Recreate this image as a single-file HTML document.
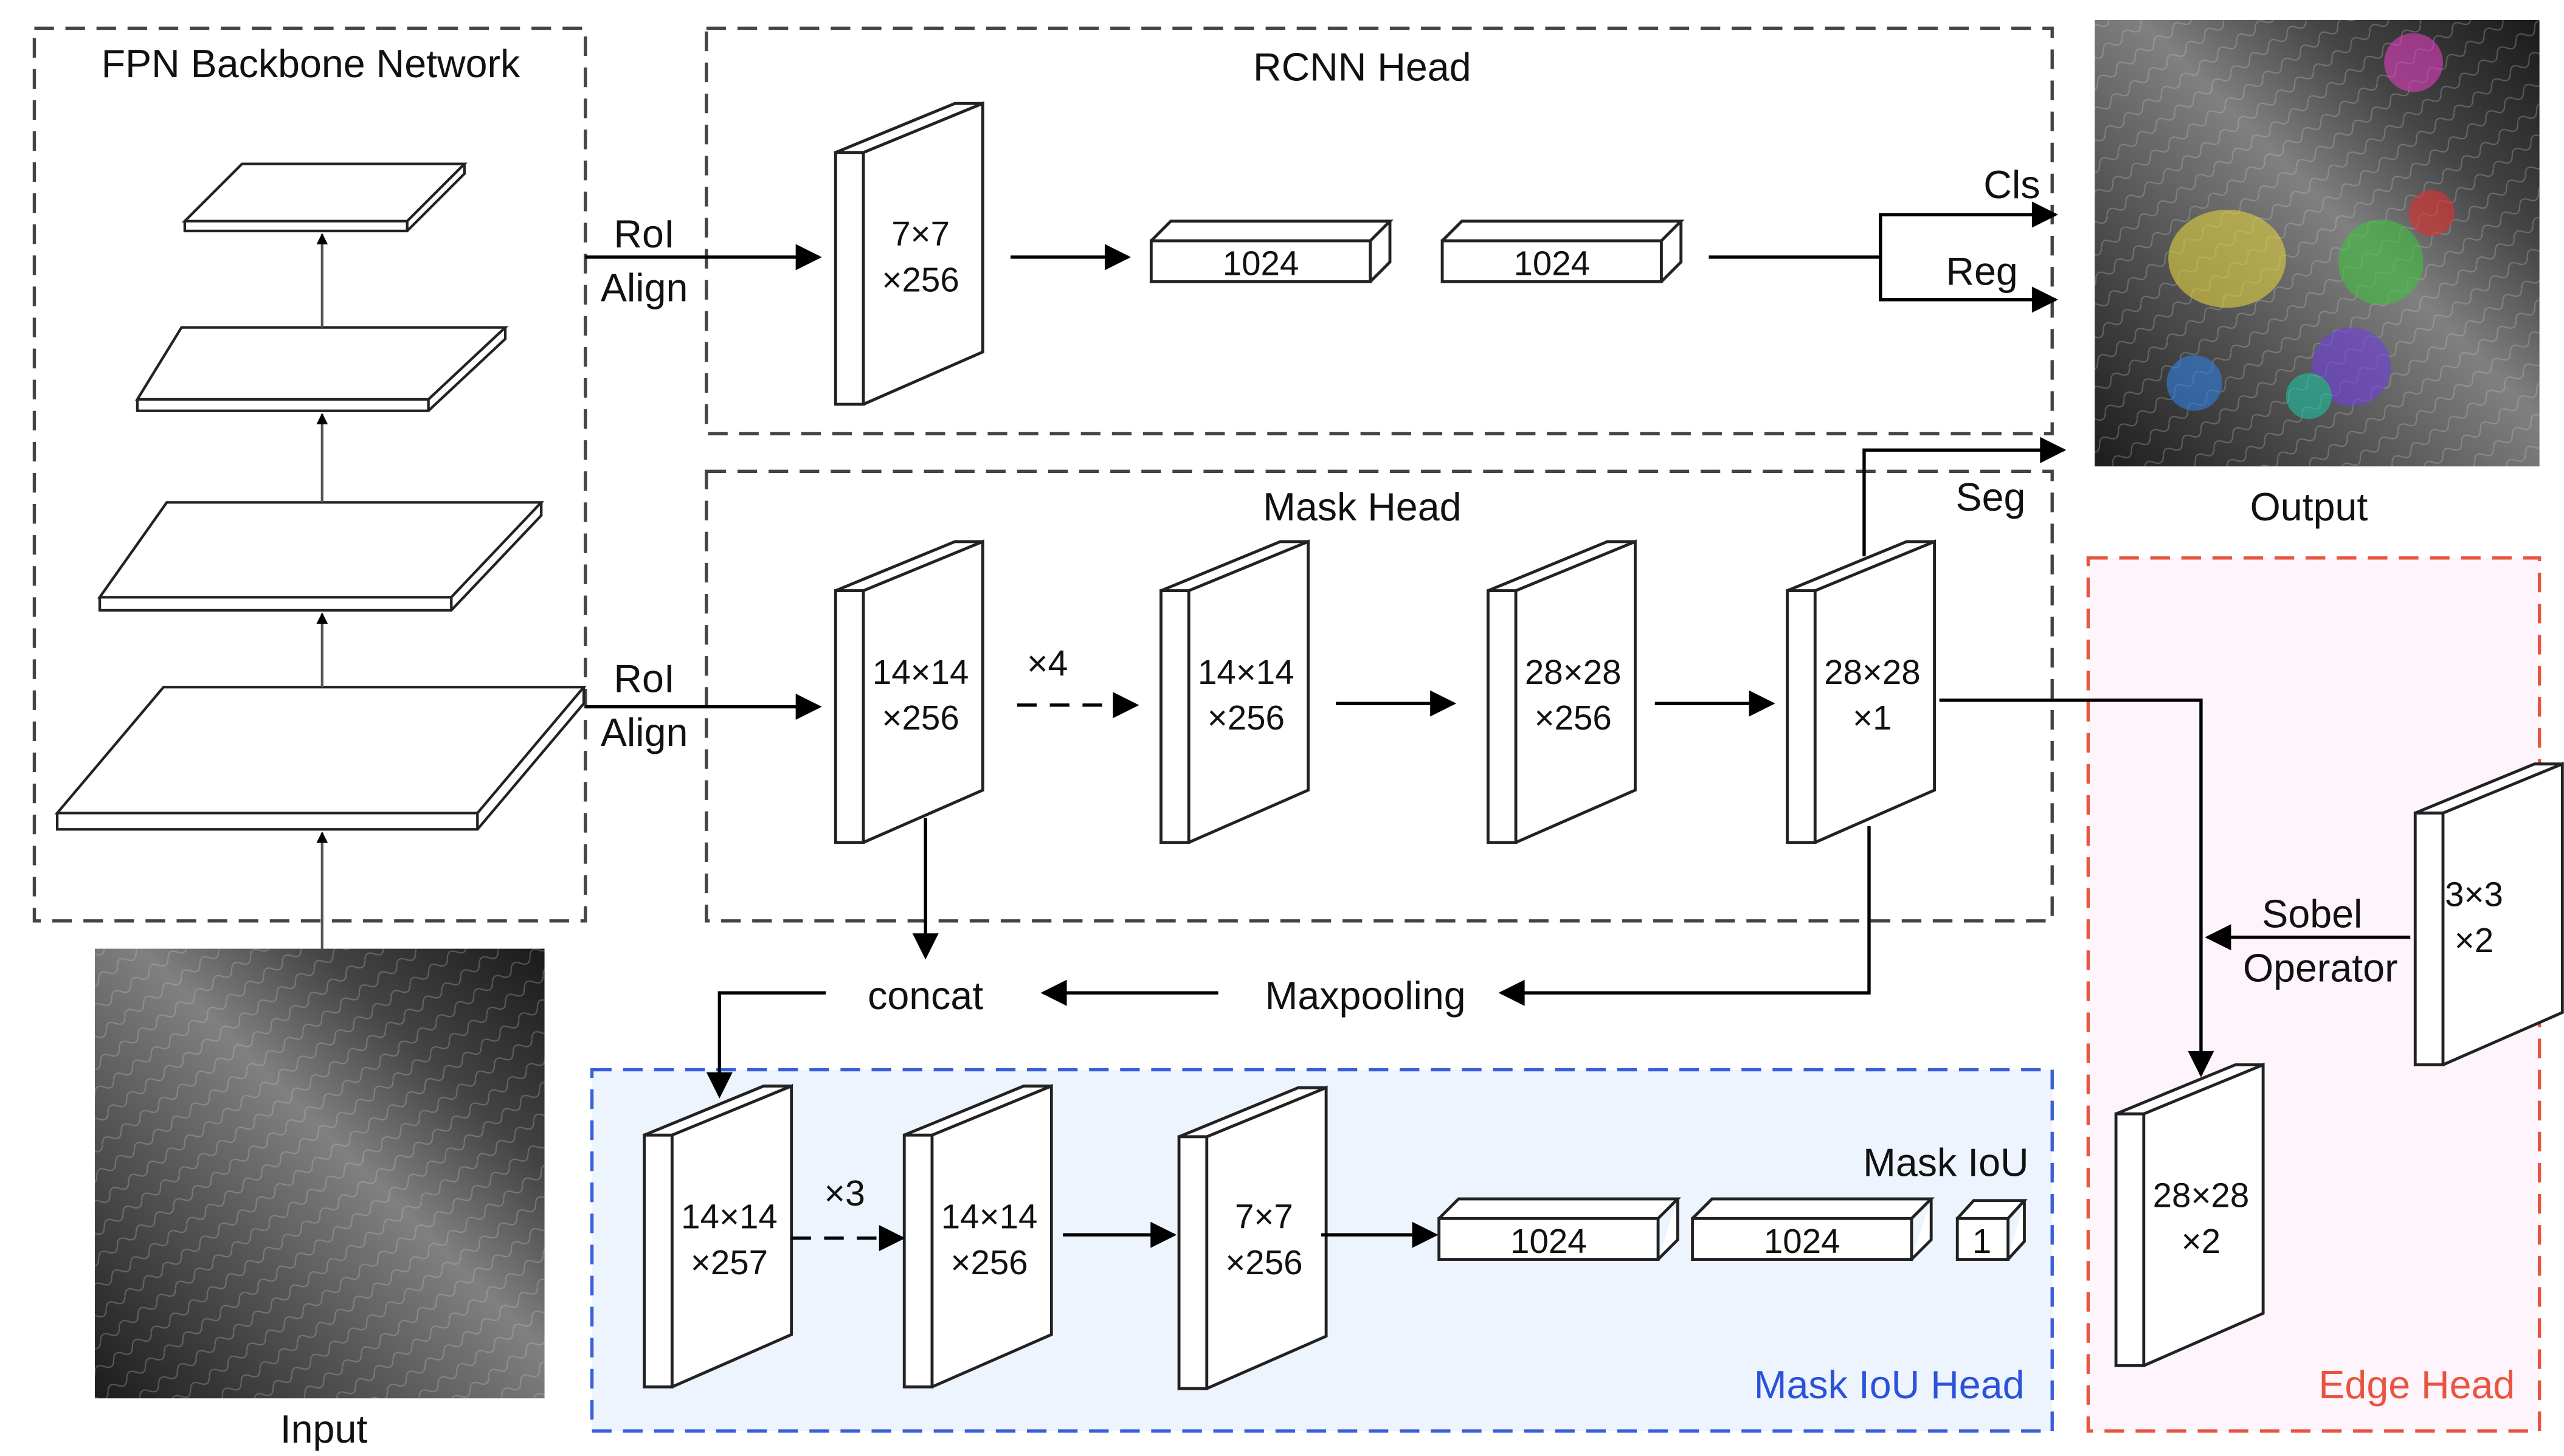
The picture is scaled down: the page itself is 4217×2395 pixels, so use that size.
<!DOCTYPE html>
<html><head><meta charset="utf-8"><style>html,body{margin:0;padding:0;background:#fff}svg{display:block}text{font-family:"Liberation Sans",sans-serif;fill:#111}</style></head><body>
<svg width="4217" height="2395" viewBox="0 0 1568 890" xmlns="http://www.w3.org/2000/svg">
<defs>
<marker id="ar" viewBox="0 0 10 10" refX="9" refY="5" markerWidth="7" markerHeight="7" orient="auto" markerUnits="userSpaceOnUse"><path d="M0,0L10,5L0,10z" fill="#000"/></marker>
<marker id="a2" viewBox="0 0 10 10" refX="9" refY="5" markerWidth="20" markerHeight="16" orient="auto" markerUnits="userSpaceOnUse"><path d="M0,0L10,5L0,10z" fill="#000"/></marker>
<linearGradient id="img" x1="0" y1="1" x2="1" y2="0"><stop offset="0" stop-color="#1c1c1c"/><stop offset=".35" stop-color="#5a5a5a"/><stop offset=".55" stop-color="#808080"/><stop offset=".75" stop-color="#444"/><stop offset="1" stop-color="#1a1a1a"/></linearGradient>
<pattern id="tex" width="14" height="14" patternUnits="userSpaceOnUse" patternTransform="rotate(-35)"><path d="M0,7 Q3.5,2 7,7 T14,7" stroke="#ccc" stroke-width=".8" fill="none" opacity=".3"/></pattern>
</defs>
<g fill="none" stroke-width="2" stroke-dasharray="12,7">
<rect x="21" y="17" width="337" height="546" stroke="#444"/>
<rect x="432" y="17" width="823" height="248" stroke="#444"/>
<rect x="432" y="288" width="823" height="275" stroke="#444"/>
<rect x="362" y="654" width="893" height="221" stroke="#3a5fd9" fill="#eef4fd"/>
<rect x="1277" y="341" width="276" height="534" stroke="#e8553f" fill="#fdf5fb"/>
</g>
<text x="190" y="47" font-size="24" text-anchor="middle">FPN Backbone Network</text>
<text x="833" y="49" font-size="24" text-anchor="middle">RCNN Head</text>
<text x="833" y="318" font-size="24" text-anchor="middle">Mask Head</text>
<text x="1238" y="855" font-size="24" text-anchor="end" style="fill:#2b52d8">Mask IoU Head</text>
<text x="1538" y="855" font-size="24" text-anchor="end" style="fill:#e8553f">Edge Head</text>
<rect x="58" y="580" width="275" height="275" fill="url(#img)"/><rect x="58" y="580" width="275" height="275" fill="url(#tex)"/>
<rect x="1281" y="12" width="272" height="273" fill="url(#img)"/><rect x="1281" y="12" width="272" height="273" fill="url(#tex)"/>
<g opacity=".6">
<ellipse cx="1362" cy="158" rx="36" ry="30" fill="#e0d040"/>
<circle cx="1456" cy="160" r="26" fill="#40c040"/>
<circle cx="1476" cy="38" r="18" fill="#e040c0"/>
<circle cx="1487" cy="130" r="14" fill="#e03030"/>
<circle cx="1438" cy="224" r="24" fill="#7040e0"/>
<circle cx="1412" cy="242" r="14" fill="#20c0a0"/>
<circle cx="1342" cy="234" r="17" fill="#3080e0"/>
</g>
<text x="198" y="882" font-size="24" text-anchor="middle">Input</text>
<text x="1412" y="318" font-size="24" text-anchor="middle">Output</text>
<g fill="#fff" stroke="#222" stroke-width="1.6">
<path d="M113,135 L148,100 L284,100 L249,135 Z M113,135 L113,141 L249,141 L284,106 L284,100 M249,135 L249,141"/>
<path d="M84,244 L111,200 L309,200 L262,244 Z M84,244 L84,251 L262,251 L309,207 L309,200 M262,244 L262,251"/>
<path d="M61,365 L102,307 L331,307 L276,365 Z M61,365 L61,373 L276,373 L331,315 L331,307 M276,365 L276,373"/>
<path d="M35,497 L100,420 L357,420 L292,497 Z M35,497 L35,507 L292,507 L357,430 L357,420 M292,497 L292,507"/>
</g>
<g stroke="#555" stroke-width="1.6" marker-end="url(#ar)">
<line x1="197" y1="580" x2="197" y2="509"/><line x1="197" y1="420" x2="197" y2="375"/>
<line x1="197" y1="307" x2="197" y2="253"/><line x1="197" y1="200" x2="197" y2="143"/>
</g>
<g fill="#fff" stroke="#222" stroke-width="1.8">
<path id="s1" d="M511,93 L528,93 L528,247 L511,247 Z M511,93 L584,63 L601,63 L528,93 M528,93 L601,63 L601,215 L528,247"/>
<use href="#s1" y="268"/><use href="#s1" x="199" y="268"/><use href="#s1" x="399" y="268"/><use href="#s1" x="582" y="268"/>
<use href="#s1" x="-117" y="601"/><use href="#s1" x="42" y="601"/><use href="#s1" x="210" y="602"/>
<use href="#s1" x="966" y="404"/><use href="#s1" x="783" y="588"/>
<path id="b1" d="M704,147 L838,147 L838,172 L704,172 Z M704,147 L716,135 L850,135 L838,147 M838,172 L850,160 L850,135"/>
<use href="#b1" x="178"/><use href="#b1" x="176" y="598"/><use href="#b1" x="331" y="598"/>
<path d="M1197,745 L1228,745 L1228,770 L1197,770 Z M1197,745 L1207,734 L1238,734 L1228,745 M1228,770 L1238,759 L1238,734"/>
</g>
<g font-size="21" text-anchor="middle">
<text x="563" y="150">7×7</text><text x="563" y="178">×256</text>
<text x="563" y="418">14×14</text><text x="563" y="446">×256</text>
<text x="762" y="418">14×14</text><text x="762" y="446">×256</text>
<text x="962" y="418">28×28</text><text x="962" y="446">×256</text>
<text x="1145" y="418">28×28</text><text x="1145" y="446">×1</text>
<text x="446" y="751">14×14</text><text x="446" y="779">×257</text>
<text x="605" y="751">14×14</text><text x="605" y="779">×256</text>
<text x="773" y="751">7×7</text><text x="773" y="779">×256</text>
<text x="1513" y="554">3×3</text><text x="1513" y="582">×2</text>
<text x="1346" y="738">28×28</text><text x="1346" y="766">×2</text>
<text x="771" y="168">1024</text><text x="949" y="168">1024</text>
<text x="947" y="766">1024</text><text x="1102" y="766">1024</text><text x="1212" y="766">1</text>
</g>
<g font-size="24">
<text x="394" y="151" text-anchor="middle">RoI</text><text x="394" y="184" text-anchor="middle">Align</text>
<text x="394" y="423" text-anchor="middle">RoI</text><text x="394" y="456" text-anchor="middle">Align</text>
<text x="1213" y="121">Cls</text><text x="1190" y="174">Reg</text><text x="1196" y="312">Seg</text>
<text x="628" y="413" font-size="22">×4</text><text x="504" y="737" font-size="22">×3</text>
<text x="566" y="617" text-anchor="middle">concat</text><text x="835" y="617" text-anchor="middle">Maxpooling</text>
<text x="1190" y="719" text-anchor="middle">Mask IoU</text>
<text x="1414" y="567" text-anchor="middle">Sobel</text><text x="1419" y="600" text-anchor="middle">Operator</text>
</g>
<g stroke="#000" stroke-width="2" fill="none" marker-end="url(#a2)">
<line x1="358" y1="157" x2="501" y2="157"/>
<line x1="358" y1="432" x2="501" y2="432"/>
<line x1="618" y1="157" x2="690" y2="157"/>
<polyline points="1045,157 1150,157 1150,131 1257,131"/>
<polyline points="1150,157 1150,183 1257,183"/>
<polyline points="1140,340 1140,275 1262,275"/>
<line x1="622" y1="431" x2="695" y2="431" stroke-dasharray="12,8"/>
<line x1="817" y1="430" x2="889" y2="430"/>
<line x1="1012" y1="430" x2="1084" y2="430"/>
<polyline points="1186,428 1346,428 1346,657"/>
<line x1="1474" y1="573" x2="1350" y2="573"/>
<line x1="566" y1="500" x2="566" y2="585"/>
<polyline points="1143,505 1143,607 918,607"/>
<line x1="745" y1="607" x2="638" y2="607"/>
<polyline points="505,607 440,607 440,670"/>
<line x1="484" y1="757" x2="552" y2="757" stroke-dasharray="12,8"/>
<line x1="650" y1="755" x2="718" y2="755"/>
<line x1="808" y1="755" x2="878" y2="755"/>
</g>
</svg>
</body></html>
